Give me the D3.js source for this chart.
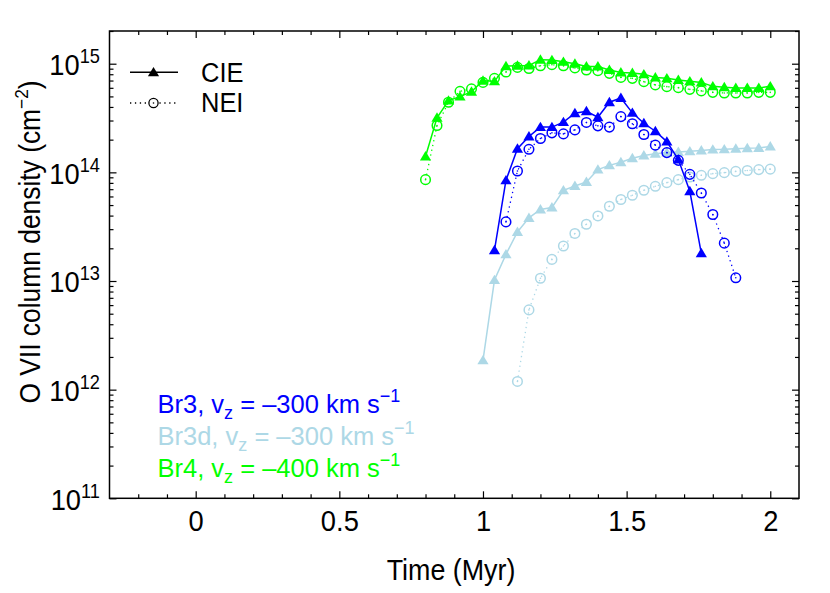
<!DOCTYPE html>
<html><head><meta charset="utf-8">
<script src="https://cdn.jsdelivr.net/npm/d3@7"></script>
<style>body{margin:0;background:#fff}svg{display:block}text{font-family:"Liberation Sans",Arial,Helvetica,sans-serif}</style>
</head><body><svg id="c" width="830" height="593"></svg>
<script>
// ---- data ----
const greenTime = [0.80,0.84,0.88,0.92,0.96,1.00,1.04,1.08,1.12,1.16,1.20,1.24,1.28,1.32,1.36,1.40,1.44,1.48,1.52,1.56,1.60,1.64,1.68,1.72,1.76,1.80,1.84,1.88,1.92,1.96,2.00];
const greenCIE = [1.40e14,3.18e14,4.58e14,4.98e14,5.53e14,6.98e14,6.88e14,9.5e14,9.6e14,9.65e14,1.09e15,1.08e15,1.04e15,1.0e15,9.45e14,9.45e14,8.75e14,8.32e14,8.22e14,7.98e14,7.48e14,7.33e14,7.08e14,6.88e14,6.73e14,6.19e14,6.07e14,5.98e14,5.98e14,5.98e14,6.19e14];
const greenNEI = [8.57e13,2.70e14,4.42e14,5.57e14,5.86e14,6.73e14,7.33e14,8.39e14,9.25e14,9.04e14,9.58e14,9.8e14,9.58e14,9.14e14,8.75e14,8.63e14,8.15e14,7.48e14,7.33e14,6.84e14,6.38e14,6.15e14,6.02e14,5.81e14,5.62e14,5.45e14,5.38e14,5.38e14,5.38e14,5.45e14,5.45e14];

const blueCIETime = [1.04,1.08,1.12,1.16,1.20,1.24,1.28,1.32,1.36,1.40,1.44,1.48,1.52,1.56,1.60,1.64,1.68,1.72,1.76];
const blueCIE = [1.92e13,8.45e13,1.65e14,2.14e14,2.61e14,2.61e14,2.90e14,3.50e14,3.65e14,3.22e14,4.42e14,4.84e14,3.53e14,2.83e14,2.39e14,1.92e14,1.31e14,6.70e13,1.80e13];
const blueNEITime = [1.08,1.12,1.16,1.20,1.24,1.28,1.32,1.36,1.40,1.44,1.48,1.52,1.56,1.60,1.64,1.68,1.72,1.76,1.80,1.84,1.88];
const blueNEI = [3.50e13,1.03e14,1.63e14,2.05e14,2.31e14,2.26e14,2.46e14,2.88e14,2.68e14,2.61e14,3.26e14,2.80e14,2.23e14,1.78e14,1.52e14,1.29e14,9.59e13,6.46e13,4.09e13,2.23e13,1.07e13];

const lbCIETime = [1.00,1.04,1.08,1.12,1.16,1.20,1.24,1.28,1.32,1.36,1.40,1.44,1.48,1.52,1.56,1.60,1.64,1.68,1.72,1.76,1.80,1.84,1.88,1.92,1.96,2.00];
const lbCIE = [1.86e12,1.02e13,1.76e13,2.83e13,3.81e13,4.55e13,4.75e13,6.84e13,7.49e13,8.15e13,1.06e14,1.16e14,1.24e14,1.35e14,1.43e14,1.48e14,1.52e14,1.54e14,1.56e14,1.59e14,1.62e14,1.63e14,1.65e14,1.67e14,1.68e14,1.73e14];
const lbNEITime = [1.12,1.16,1.20,1.24,1.28,1.32,1.36,1.40,1.44,1.48,1.52,1.56,1.60,1.64,1.68,1.72,1.76,1.80,1.84,1.88,1.92,1.96,2.00];
const lbNEI = [1.19e12,5.42e12,1.06e13,1.58e13,2.10e13,2.74e13,3.33e13,3.97e13,4.88e13,5.62e13,6.15e13,6.84e13,7.44e13,8.04e13,8.57e13,9.06e13,9.39e13,9.73e13,9.94e13,1.02e14,1.04e14,1.06e14,1.07e14];

const xMajorTicks = [0,0.5,1,1.5,2];
const xMinorTicks = [-0.2,-0.1,0.1,0.2,0.3,0.4,0.6,0.7,0.8,0.9,1.1,1.2,1.3,1.4,1.6,1.7,1.8,1.9];
const yDecades = [1e11,1e12,1e13,1e14,1e15];
const yExponents = ["11","12","13","14","15"];
const labels = [
  {name:"Br3", vz:"300", color:"#0000ff"},
  {name:"Br3d", vz:"300", color:"#add8e6"},
  {name:"Br4", vz:"400", color:"#00ff00"}
];
const colBlue = "#0000ff", colLB = "#add8e6", colGreen = "#00ff00";

// ---- chart ----
const svg = d3.select("#c");
const L = 109.5, R = 799, T = 31, B = 498.3;
const SX = 0.91; // horizontal condensing of the sans text
const x = d3.scaleLinear().domain([-0.3, 2.1]).range([L, R]);
const y = d3.scaleLog().domain([1e11, 2e15]).range([B, T]);

const yMinor = [];
yDecades.forEach(d => { for (let k = 2; k <= 9; k++) { const v = d * k; if (v <= 2e15) yMinor.push(v); } });

function styleAxis(g){ g.select(".domain").remove(); g.selectAll("line").attr("stroke","#000").attr("stroke-width",1.2); }
// bottom
svg.append("g").attr("transform",`translate(0,${B})`)
  .call(d3.axisBottom(x).tickValues(xMinorTicks).tickSize(-4).tickFormat("")).call(styleAxis);
const bx = svg.append("g").attr("transform",`translate(0,${B})`)
  .call(d3.axisBottom(x).tickValues(xMajorTicks).tickSize(-7).tickPadding(11).tickFormat(d => String(d))).call(styleAxis);
bx.selectAll("text").attr("font-size",30).attr("fill","#000").attr("font-family",null).attr("transform",`scale(${SX},1)`);
// top
svg.append("g").attr("transform",`translate(0,${T})`)
  .call(d3.axisTop(x).tickValues(xMinorTicks).tickSize(-4).tickFormat("")).call(styleAxis);
svg.append("g").attr("transform",`translate(0,${T})`)
  .call(d3.axisTop(x).tickValues(xMajorTicks).tickSize(-7).tickFormat("")).call(styleAxis);
// left
svg.append("g").attr("transform",`translate(${L},0)`)
  .call(d3.axisLeft(y).tickValues(yMinor).tickSize(-4).tickFormat("")).call(styleAxis);
const ly = svg.append("g").attr("transform",`translate(${L},0)`)
  .call(d3.axisLeft(y).tickValues(yDecades).tickSize(-7).tickPadding(10.5).tickFormat("")).call(styleAxis);
ly.selectAll("text").each(function(d,i){
  const t = d3.select(this).attr("font-size",30).attr("fill","#000").attr("font-family",null)
    .attr("dy","0.36em").attr("transform",`scale(${SX},1)`);
  t.text("10");
  t.append("tspan").attr("dy",-12).attr("font-size",20).text(yExponents[i]);
});
// right
svg.append("g").attr("transform",`translate(${R},0)`)
  .call(d3.axisRight(y).tickValues(yMinor).tickSize(-4).tickFormat("")).call(styleAxis);
svg.append("g").attr("transform",`translate(${R},0)`)
  .call(d3.axisRight(y).tickValues(yDecades).tickSize(-7).tickFormat("")).call(styleAxis);

// frame
svg.append("rect").attr("x",L).attr("y",T).attr("width",R-L).attr("height",B-T)
  .attr("fill","none").attr("stroke","#000").attr("stroke-width",1.5);

const line = d3.line().x(d => x(d[0])).y(d => y(d[1]));
const triType = { draw(ctx, size){ const s = Math.sqrt(size)/10; ctx.moveTo(0,-5.4*s); ctx.lineTo(5.6*s,4.0*s); ctx.lineTo(-5.6*s,4.0*s); ctx.closePath(); } };
const tri = d3.symbol().type(triType).size(100);

function drawCIE(times, vals, color){
  const pts = times.map((t,i) => [t, vals[i]]);
  svg.append("path").datum(pts).attr("d",line).attr("fill","none").attr("stroke",color).attr("stroke-width",1.5);
  svg.append("g").selectAll("path").data(pts).join("path")
    .attr("transform", d => `translate(${x(d[0])},${y(d[1])})`).attr("d",tri).attr("fill",color);
}
function drawNEI(times, vals, color){
  const pts = times.map((t,i) => [t, vals[i]]);
  svg.append("path").datum(pts).attr("d",line).attr("fill","none").attr("stroke",color)
    .attr("stroke-width",1.3).attr("stroke-dasharray","1.3,3.6");
  const g = svg.append("g");
  g.selectAll("circle.o").data(pts).join("circle").attr("class","o")
    .attr("cx", d => x(d[0])).attr("cy", d => y(d[1])).attr("r",4.8)
    .attr("fill","none").attr("stroke",color).attr("stroke-width",1.5);
  g.selectAll("circle.d").data(pts).join("circle").attr("class","d")
    .attr("cx", d => x(d[0])).attr("cy", d => y(d[1])).attr("r",0.8).attr("fill",color);
}

drawCIE(greenTime, greenCIE, colGreen);
drawNEI(greenTime, greenNEI, colGreen);
drawCIE(lbCIETime, lbCIE, colLB);
drawNEI(lbNEITime, lbNEI, colLB);
drawNEI(blueNEITime, blueNEI, colBlue);
drawCIE(blueCIETime, blueCIE, colBlue);

function ctext(px, py, size, sx){
  return svg.append("text").attr("transform",`translate(${px},${py}) scale(${sx},1)`).attr("font-size",size);
}

// legend
const lg = svg.append("g");
lg.append("line").attr("x1",130).attr("x2",178).attr("y1",72.3).attr("y2",72.3).attr("stroke","#000").attr("stroke-width",1.5);
lg.append("path").attr("transform","translate(153.5,72.3)").attr("d",tri).attr("fill","#000");
ctext(201,81.7,28,SX).text("CIE");
lg.append("line").attr("x1",130).attr("x2",178).attr("y1",103).attr("y2",103).attr("stroke","#000").attr("stroke-width",1.3).attr("stroke-dasharray","1.3,3.6");
lg.append("circle").attr("cx",153.5).attr("cy",103).attr("r",4.6).attr("fill","#fff").attr("stroke","#000").attr("stroke-width",1.3);
lg.append("circle").attr("cx",153.5).attr("cy",103).attr("r",0.8).attr("fill","#000");
ctext(201,111.7,28,SX).text("NEI");

// annotations
labels.forEach((lb,i) => {
  const t = ctext(157.5, 413 + i*32, 25.5, 1).attr("fill",lb.color);
  t.append("tspan").text(lb.name + ", v");
  t.append("tspan").attr("dy",6).attr("font-size",18).text("z");
  t.append("tspan").attr("dy",-6).text(" = \u2013" + lb.vz + " km s");
  t.append("tspan").attr("dy",-11).attr("font-size",18).text("\u22121");
});

// axis titles
ctext(451,580,29.5,SX).attr("text-anchor","middle").text("Time (Myr)");
const yt = svg.append("text").attr("transform",`translate(40,242) rotate(-90) scale(${SX},1)`).attr("text-anchor","middle").attr("font-size",29);
yt.append("tspan").text("O VII column density (cm");
yt.append("tspan").attr("dy",-12).attr("font-size",19).text("\u22122");
yt.append("tspan").attr("dy",12).text(")");
</script></body></html>
